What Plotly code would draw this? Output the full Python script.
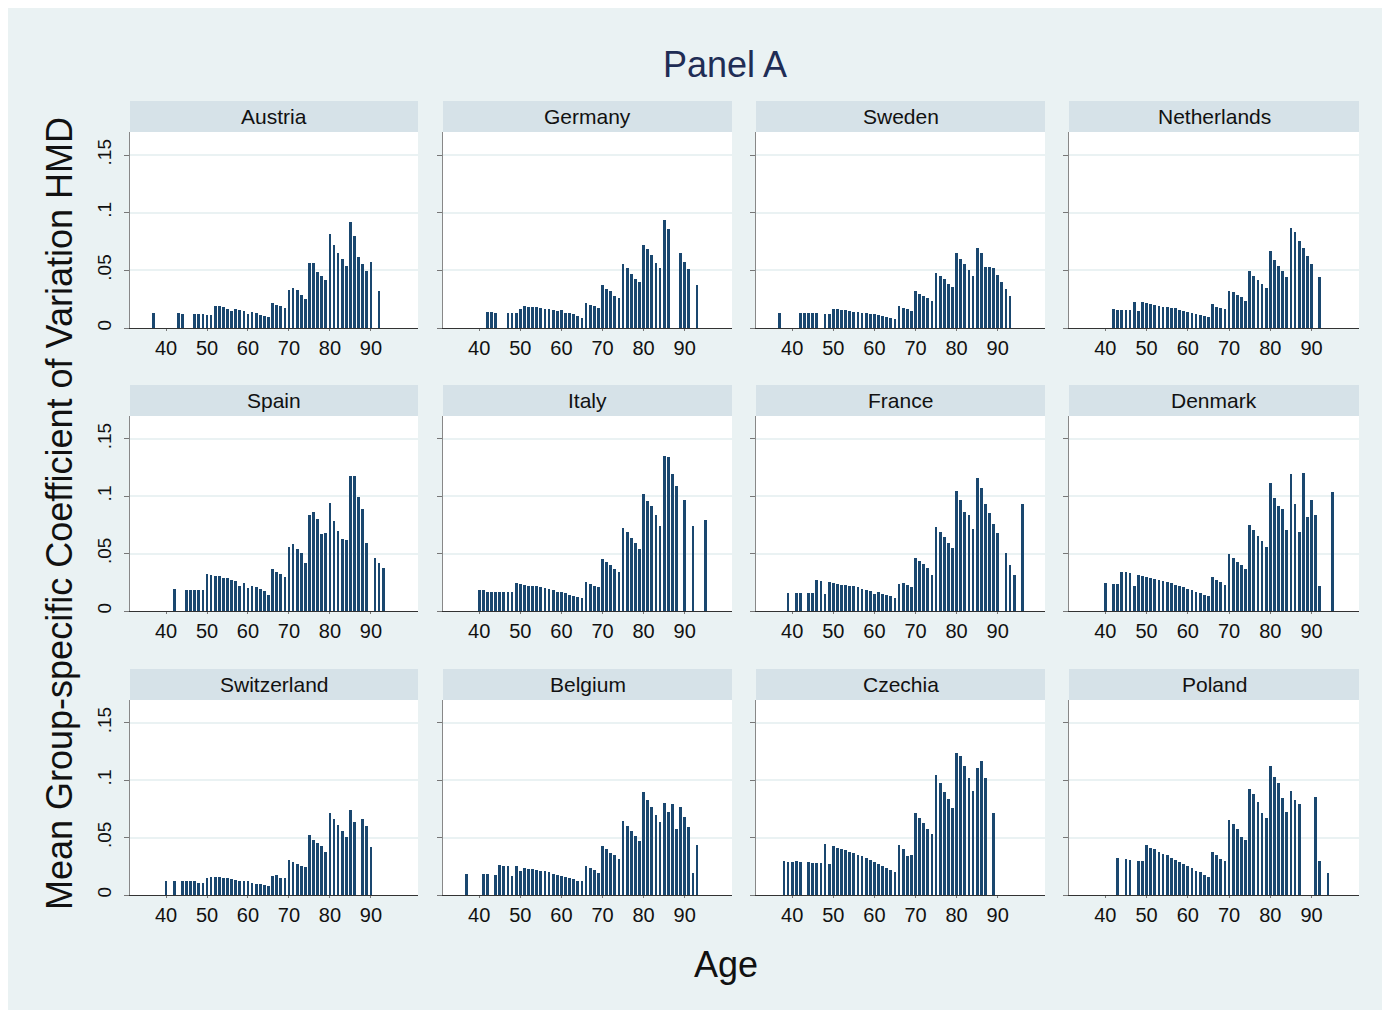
import plotly.graph_objects as go

# ---------------- data ----------------
countries = ["Austria", "Germany", "Sweden", "Netherlands",
             "Spain", "Italy", "France", "Denmark",
             "Switzerland", "Belgium", "Czechia", "Poland"]

austria_age = [37, 43, 44, 47, 48, 49, 50, 51, 52, 53, 54, 55, 56, 57, 58, 59, 60, 61, 62, 63, 64, 65,
               66, 67, 68, 69, 70, 71, 72, 73, 74, 75, 76, 77, 78, 79, 80, 81, 82, 83, 84, 85, 86, 87, 88, 89, 90, 92]
austria_cv = [.0127, .0127, .0119, .012, .012, .012, .011, .011, .0188, .0188, .018, .0168, .0147, .0162, .0156, .0147,
              .0121, .0136, .0127, .0113, .0104, .0095, .0214, .0202, .0188, .017, .0332, .035, .0327, .0283, .0251,
              .056, .056, .0488, .045, .0413, .0812, .0717, .065, .0598, .054, .0916, .0795, .0613, .0552, .0494, .0575, .0318]

germany_age = [42, 43, 44, 47, 48, 49, 50, 51, 52, 53, 54, 55, 56, 57, 58, 59, 60, 61, 62, 63, 64, 65,
               66, 67, 68, 69, 70, 71, 72, 73, 74, 75, 76, 77, 78, 79, 80, 81, 82, 83, 84, 85, 86, 89, 90, 91, 93]
germany_cv = [.0139, .0139, .0133, .0133, .0133, .0127, .0168, .0194, .0185, .0185, .018, .017, .0162, .0162, .0153, .015,
              .0156, .0133, .0127, .0118, .0104, .0087, .0214, .0202, .0194, .017, .037, .0338, .0324, .028, .0257,
              .0552, .0517, .0465, .0428, .0396, .0723, .0688, .0633, .0566, .0523, .0934, .0855, .0647, .0575, .0509, .0376]

sweden_age = [37, 42, 43, 44, 45, 46, 48, 49, 50, 51, 52, 53, 54, 55, 56, 57, 58, 59, 60, 61, 62, 63, 64, 65,
              66, 67, 68, 69, 70, 71, 72, 73, 74, 75, 76, 77, 78, 79, 80, 81, 82, 83, 84, 85, 86, 87, 88, 89, 90, 91, 92, 93]
sweden_cv = [.0133, .0133, .0127, .0127, .0127, .0127, .0118, .0118, .0162, .0162, .0153, .0153, .0147, .0142, .0142, .0133,
             .0127, .0118, .0118, .011, .0104, .0098, .009, .0081, .0188, .017, .0162, .0147, .0318, .0298, .028, .0257, .0237,
             .048, .045, .0422, .0384, .0355, .0647, .0598, .0552, .05, .045, .0694, .0647, .0529, .0529, .0517, .0457, .0399, .0338, .028]

netherlands_age = [42, 43, 44, 45, 46, 47, 48, 49, 50, 51, 52, 53, 54, 55, 56, 57, 58, 59, 60, 61, 62, 63, 64, 65,
                   66, 67, 68, 69, 70, 71, 72, 73, 74, 75, 76, 77, 78, 79, 80, 81, 82, 83, 84, 85, 86, 87, 88, 89, 90, 92]
netherlands_cv = [.0162, .0153, .0153, .0153, .0153, .0228, .0147, .0223, .0214, .0205, .02, .0194, .0185, .0185, .0176, .017,
                  .0153, .0147, .0139, .0133, .0124, .011, .0104, .0095, .0205, .0185, .0176, .0162, .0324, .0309, .0286, .0266, .0237,
                  .0494, .045, .0413, .0384, .0347, .0665, .059, .0538, .0494, .0442, .087, .0835, .0754, .0694, .0627, .0552, .0442]

spain_age = [42, 45, 46, 47, 48, 49, 50, 51, 52, 53, 54, 55, 56, 57, 58, 59, 60, 61, 62, 63, 64, 65,
             66, 67, 68, 69, 70, 71, 72, 73, 74, 75, 76, 77, 78, 79, 80, 81, 82, 83, 84, 85, 86, 87, 88, 89, 91, 92, 93]
spain_cv = [.0188, .0185, .0179, .0179, .0179, .0179, .032, .0312, .0303, .0303, .0289, .0289, .0274, .0265, .0216, .0242,
            .0202, .0216, .0208, .0193, .0176, .0141, .0364, .0343, .0323, .0297, .0554, .0583, .054, .0502, .0421,
            .0834, .086, .0802, .0672, .0678, .0943, .0782, .0698, .0626, .0617, .1177, .1177, .099, .0891, .0594, .0464, .0421, .0372]

italy_age = [40, 41, 42, 43, 44, 45, 46, 47, 48, 49, 50, 51, 52, 53, 54, 55, 56, 57, 58, 59, 60, 61, 62, 63, 64, 65,
             66, 67, 68, 69, 70, 71, 72, 73, 74, 75, 76, 77, 78, 79, 80, 81, 82, 83, 84, 85, 86, 87, 88, 90, 92, 95]
italy_cv = [.0179, .0179, .017, .017, .017, .017, .017, .0162, .0162, .0245, .0237, .0228, .0222, .0222, .0214, .0208,
            .0202, .0193, .0179, .017, .0164, .0153, .0141, .0133, .0121, .0113, .0254, .0237, .0222, .0208,
            .045, .0427, .0398, .0369, .034, .0721, .0687, .0635, .0591, .054, .1024, .0955, .0912, .0834, .0739,
            .1353, .1345, .1192, .1091, .0964, .0739, .0796]

france_age = [39, 41, 42, 44, 45, 46, 47, 48, 49, 50, 51, 52, 53, 54, 55, 56, 57, 58, 59, 60, 61, 62, 63, 64, 65,
              66, 67, 68, 69, 70, 71, 72, 73, 74, 75, 76, 77, 78, 79, 80, 81, 82, 83, 84, 85, 86, 87, 88, 89, 90, 92, 93, 94, 96]
france_cv = [.0156, .0156, .0156, .0156, .0156, .0268, .026, .015, .0254, .0245, .0237, .0228, .0228, .0222, .0214, .0205,
             .0193, .0185, .0173, .015, .0162, .015, .0138, .0127, .0115, .0237, .0242, .0228, .0208,
             .0459, .0436, .0407, .0375, .0317, .073, .0687, .0641, .0591, .0545, .1047, .0972, .086, .0834, .0713,
             .1163, .1076, .0935, .0854, .0759, .0681, .0502, .0398, .0312, .0935]

denmark_age = [40, 42, 43, 44, 45, 46, 47, 48, 49, 50, 51, 52, 53, 54, 55, 56, 57, 58, 59, 60, 61, 62, 63, 64, 65,
               66, 67, 68, 69, 70, 71, 72, 73, 74, 75, 76, 77, 78, 79, 80, 81, 82, 83, 84, 85, 86, 87, 88, 89, 90, 91, 92, 95]
denmark_cv = [.0245, .0237, .0237, .034, .034, .0332, .0214, .0317, .0303, .0297, .0289, .028, .0274, .026, .0251, .0242,
              .0228, .0214, .0208, .0193, .0185, .017, .0156, .0141, .0127, .0297, .0274, .0251, .0228,
              .0496, .0462, .0427, .0398, .0364, .0753, .0707, .0658, .0606, .0554, .1119, .0987, .0912, .0886, .0707,
              .1197, .0935, .0692, .1206, .0817, .0964, .084, .0214, .1039]

switzerland_age = [40, 42, 44, 45, 46, 47, 48, 49, 50, 51, 52, 53, 54, 55, 56, 57, 58, 59, 60, 61, 62, 63, 64, 65,
                   66, 67, 68, 69, 70, 71, 72, 73, 74, 75, 76, 77, 78, 79, 80, 81, 82, 83, 84, 85, 86, 88, 89, 90]
switzerland_cv = [.0118, .0118, .0118, .0118, .0118, .0118, .0109, .0109, .0147, .0161, .0155, .0155, .0147, .0147, .0138, .0132,
                  .0126, .0126, .0118, .0109, .0098, .0098, .0089, .0075, .017, .0178, .0147, .0147,
                  .0302, .0287, .0273, .025, .0241, .0523, .0483, .0454, .0425, .0376, .0713, .0661, .0609, .0557, .0506,
                  .0741, .0638, .0661, .0603, .042]

belgium_age = [37, 41, 42, 44, 45, 46, 47, 48, 49, 50, 51, 52, 53, 54, 55, 56, 57, 58, 59, 60, 61, 62, 63, 64, 65,
               66, 67, 68, 69, 70, 71, 72, 73, 74, 75, 76, 77, 78, 79, 80, 81, 82, 83, 84, 85, 86, 87, 88, 89, 90, 91, 92, 93]
belgium_cv = [.0187, .0187, .0187, .0178, .0264, .0256, .0256, .017, .025, .0213, .0236, .0227, .0227, .0221, .0213, .0207,
              .0198, .0187, .0178, .017, .0161, .0147, .0141, .0126, .0121, .025, .0236, .0221, .0193,
              .0428, .0397, .0368, .0345, .0316, .0644, .0601, .0557, .0514, .0471, .0894, .083, .077, .0695, .0638,
              .0799, .0727, .079, .0572, .077, .0684, .0595, .0193, .0437]

czechia_age = [38, 39, 40, 41, 42, 44, 45, 46, 47, 48, 49, 50, 51, 52, 53, 54, 55, 56, 57, 58, 59, 60, 61, 62, 63, 64, 65,
               66, 67, 68, 69, 70, 71, 72, 73, 74, 75, 76, 77, 78, 79, 80, 81, 82, 83, 84, 85, 86, 87, 89]
czechia_cv = [.0299, .0287, .0287, .0293, .0287, .0287, .0282, .0282, .0276, .0448, .0267, .0428, .0414, .0405, .0391, .0376,
              .0368, .0353, .0339, .0319, .0302, .0287, .0273, .0256, .0236, .0221, .0201, .0437, .0402, .0339, .0348,
              .0718, .0675, .0624, .0578, .0529, .1046, .098, .0902, .0836, .0756, .1239, .1216, .1121, .1017, .0908,
              .1106, .1167, .1023, .0718]

poland_age = [43, 45, 46, 48, 49, 50, 51, 52, 53, 54, 55, 56, 57, 58, 59, 60, 61, 62, 63, 64, 65,
              66, 67, 68, 69, 70, 71, 72, 73, 74, 75, 76, 77, 78, 79, 80, 81, 82, 83, 84, 85, 86, 87, 91, 92, 94]
poland_cv = [.0322, .0316, .0307, .0299, .0293, .0434, .0411, .0397, .0374, .0359, .0345, .0325, .0307, .0287, .0273, .025,
             .0236, .0213, .0198, .0175, .0161, .0374, .0345, .0316, .0293, .0652, .0615, .0572, .0506, .0483,
             .092, .0879, .0813, .0718, .0675, .1121, .1032, .0974, .0842, .0727, .0908, .0828, .079, .0856, .0299, .0193]

ages = [austria_age, germany_age, sweden_age, netherlands_age, spain_age, italy_age,
        france_age, denmark_age, switzerland_age, belgium_age, czechia_age, poland_age]
values = [austria_cv, germany_cv, sweden_cv, netherlands_cv, spain_cv, italy_cv,
          france_cv, denmark_cv, switzerland_cv, belgium_cv, czechia_cv, poland_cv]

x_ticks = [40, 50, 60, 70, 80, 90]
y_ticks = [0, 0.05, 0.1, 0.15]
y_ticktext = ["0", ".05", ".1", ".15"]

title_text = "Panel A"
y_title = "Mean Group-specific Coefficient of Variation HMD"
x_title = "Age"

# ---------------- layout geometry ----------------
# The page body adds an 8 px white margin, so the figure starts at page (8, 8).
OFF = 8
W, H = 1374, 1002
ML, MR, MT, MB = 122, 23, 93, 115
PW, PH = W - ML - MR, H - MT - MB


def fx(px):  # page pixel -> paper x
    return (px - OFF - ML) / PW


def fy(py):  # page pixel -> paper y
    return (H - MB - (py - OFF)) / PH


col_px = [(130, 418), (443, 732), (756, 1045), (1069, 1359)]
row_px = [(132, 328), (416, 611), (700, 895)]
strip_h = 31

BAR = "#1a476f"
BG = "#eaf2f3"
STRIP = "#d6e2e8"
FONT = "Liberation Sans, Arial, sans-serif"

fig = go.Figure()
shapes = []
annotations = []
layout_axes = {}

for i, name in enumerate(countries):
    assert len(ages[i]) == len(values[i]), (name, len(ages[i]), len(values[i]))
    r, c = divmod(i, 4)
    n = i + 1
    xa = "x" if n == 1 else f"x{n}"
    ya = "y" if n == 1 else f"y{n}"
    fig.add_trace(go.Bar(x=ages[i], y=values[i], xaxis=xa, yaxis=ya, width=0.66,
                         marker=dict(color=BAR, line=dict(width=0)), showlegend=False,
                         hovertemplate=name + " age %{x}: %{y:.3f}<extra></extra>"))
    x0, x1 = col_px[c]
    y_top, y_bot = row_px[r]
    kx = "xaxis" if n == 1 else f"xaxis{n}"
    ky = "yaxis" if n == 1 else f"yaxis{n}"
    layout_axes[kx] = dict(domain=[fx(x0), fx(x1)], anchor=ya, range=[31.2, 101.5],
                           tickvals=x_ticks, ticks="outside", ticklen=2, tickcolor="#777",
                           showline=True, linecolor="#333", linewidth=1.3, showgrid=False,
                           zeroline=False, tickfont=dict(size=20, color="#111", family=FONT))
    layout_axes[ky] = dict(domain=[fy(y_bot), fy(y_top)], anchor=xa, range=[0, 0.17],
                           tickvals=y_ticks, ticktext=y_ticktext,
                           showticklabels=(c == 0), tickangle=-90,
                           ticks="outside", ticklen=5, tickcolor="#777",
                           ticklabelstandoff=5,
                           showline=True, linecolor="#888", linewidth=1.3,
                           showgrid=True, gridcolor=BG, gridwidth=1.6, zeroline=False,
                           tickfont=dict(size=19, color="#111", family=FONT))
    # header strip
    shapes.append(dict(type="rect", xref="paper", yref="paper",
                       x0=fx(x0), x1=fx(x1), y0=fy(y_top), y1=fy(y_top - strip_h),
                       fillcolor=STRIP, line=dict(width=0), layer="below"))
    annotations.append(dict(text=name, xref="paper", yref="paper",
                            x=fx((x0 + x1) / 2), y=fy(y_top - strip_h / 2),
                            xanchor="center", yanchor="middle", showarrow=False,
                            font=dict(size=21, color="#111", family=FONT)))

annotations += [
    dict(text=title_text, xref="paper", yref="paper", x=fx(725), y=fy(65),
         xanchor="center", yanchor="middle", showarrow=False,
         font=dict(size=36, color="#1f2d55", family=FONT)),
    dict(text=x_title, xref="paper", yref="paper", x=fx(726), y=fy(964),
         xanchor="center", yanchor="middle", showarrow=False,
         font=dict(size=36, color="#111", family=FONT)),
    dict(text=y_title, xref="paper", yref="paper", x=fx(59), y=fy(514),
         xanchor="center", yanchor="middle", showarrow=False, textangle=-90,
         font=dict(size=36, color="#111", family=FONT)),
]

fig.update_layout(
    width=W, height=H, autosize=False,
    margin=dict(l=ML, r=MR, t=MT, b=MB, pad=0),
    paper_bgcolor=BG, plot_bgcolor="white",
    bargap=0, shapes=shapes, annotations=annotations,
    font=dict(family=FONT),
    **layout_axes,
)

fig.write_html("out.html")
